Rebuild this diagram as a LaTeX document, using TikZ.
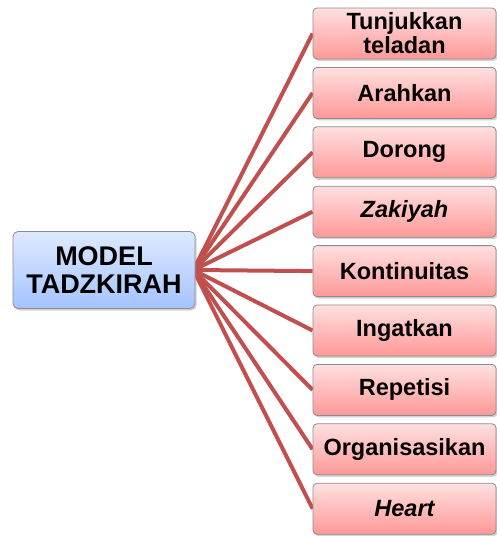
\documentclass[tikz,border=0pt]{standalone}
\usepackage{fontspec}
\setmainfont{Liberation Sans}
\usetikzlibrary{shadows,backgrounds}
\definecolor{linered}{HTML}{C0504D}
\definecolor{pinktop}{RGB}{255,224,224}
\definecolor{pinkbot}{RGB}{255,152,152}
\definecolor{bluetop}{RGB}{222,233,255}
\definecolor{bluebot}{RGB}{164,196,255}
\tikzset{
  leafbox/.style={draw=black!45, line width=0.8pt, rounded corners=4pt,
    top color=pinktop, bottom color=pinkbot,
    minimum width=183pt, minimum height=51pt, inner sep=0pt, align=center,
    font=\fontsize{23.5}{24}\selectfont\bfseries,
    drop shadow={opacity=0.35, shadow xshift=1.5pt, shadow yshift=-2pt}},
  rootbox/.style={draw=black!45, line width=0.8pt, rounded corners=5pt,
    top color=bluetop, bottom color=bluebot,
    minimum width=182pt, minimum height=77pt, inner sep=0pt, align=center,
    font=\fontsize{27}{28}\selectfont\bfseries,
    drop shadow={opacity=0.35, shadow xshift=1.5pt, shadow yshift=-2pt}},
  link/.style={draw=linered, line width=4pt}
}
\begin{document}
\begin{tikzpicture}[x=1pt,y=-1pt]
\useasboundingbox (0,0) rectangle (497,536);
\node[rootbox] (root) at (104,270) {MODEL\\TADZKIRAH};
\node[leafbox] (n1) at (404.5,33.5) {Tunjukkan\\teladan};
\node[leafbox] (n2) at (404.5,92.9) {Arahkan};
\node[leafbox] (n3) at (404.5,152.3) {Dorong};
\node[leafbox] (n4) at (404.5,211.7) {\itshape Zakiyah};
\node[leafbox] (n5) at (404.5,271.1) {Kontinuitas};
\node[leafbox] (n6) at (404.5,330.5) {Ingatkan};
\node[leafbox] (n7) at (404.5,389.9) {Repetisi};
\node[leafbox] (n8) at (404.5,449.3) {Organisasikan};
\node[leafbox] (n9) at (404.5,508.7) {\itshape Heart};
\begin{pgfonlayer}{background}
\foreach \n in {n1,n2,n3,n4,n5,n6,n7,n8,n9}
  \draw[link] ([xshift=-2pt]root.east) -- (\n.west);
\end{pgfonlayer}
\end{tikzpicture}
\end{document}
